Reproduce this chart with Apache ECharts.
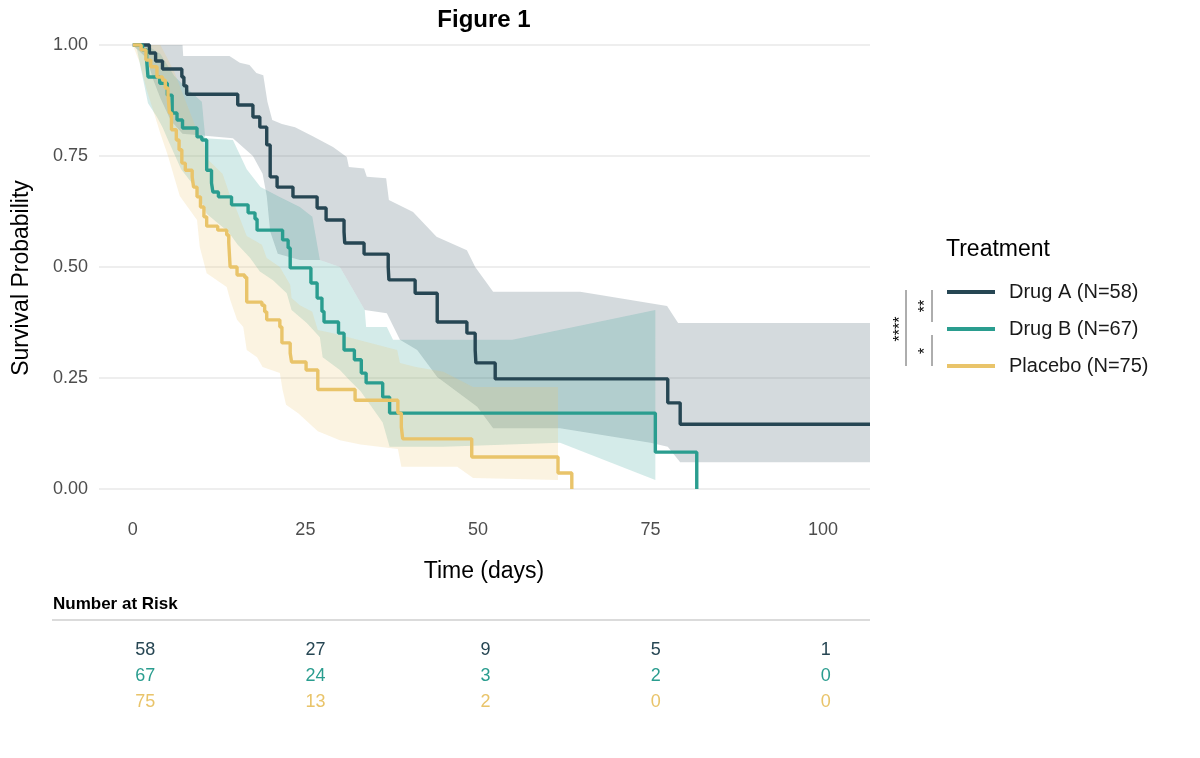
<!DOCTYPE html>
<html>
<head>
<meta charset="utf-8">
<script src="https://cdn.jsdelivr.net/npm/echarts@6/dist/echarts.min.js"></script>
<style>
  html, body { margin: 0; padding: 0; background: #fff; }
  #chart { width: 1200px; height: 758px; }
</style>
</head>
<body>
<div id="chart"></div>
<script>
// Kaplan-Meier step curves: [time, survival from that time on]
const drugA = [[0,1],[2.4,0.982],[3.3,0.964],[4.3,0.946],[7.1,0.928],[7.4,0.908],[7.8,0.889],[15.2,0.865],[17.4,0.838],[18.4,0.815],[19.4,0.775],[19.9,0.703],[20.9,0.68],[23.2,0.658],[26.7,0.633],[28.0,0.606],[30.6,0.579],[30.7,0.554],[33.5,0.529],[37.0,0.5],[37.1,0.471],[40.9,0.441],[44.1,0.376],[48.4,0.351],[49.6,0.313],[49.7,0.284],[52.5,0.248],[77.5,0.194],[79.3,0.146],[106.8,0.146]]
const drugB = [[0,1],[1.4,0.989],[2.0,0.966],[2.2,0.928],[3.9,0.914],[5.0,0.887],[5.7,0.847],[6.4,0.831],[7.2,0.813],[9.3,0.793],[10.0,0.786],[10.7,0.718],[11.4,0.689],[11.6,0.669],[12.4,0.658],[14.3,0.64],[16.7,0.622],[17.7,0.608],[18.0,0.583],[21.7,0.561],[22.5,0.543],[22.8,0.498],[25.8,0.464],[26.7,0.43],[27.4,0.4],[27.7,0.376],[29.8,0.351],[30.6,0.313],[32.1,0.291],[33.1,0.261],[33.8,0.239],[36.2,0.207],[37.2,0.171],[75.7,0.083],[81.7,0]]
const placebo = [[0,1],[1.2,0.989],[1.9,0.966],[2.6,0.951],[3.5,0.928],[4.3,0.921],[4.7,0.903],[5.1,0.887],[5.3,0.847],[5.6,0.809],[6.3,0.786],[6.7,0.764],[7.1,0.734],[7.6,0.718],[8.6,0.703],[8.8,0.68],[9.3,0.658],[9.8,0.635],[10.3,0.613],[10.7,0.592],[12.3,0.583],[13.6,0.572],[13.9,0.554],[14.1,0.5],[15.1,0.482],[16.2,0.477],[16.5,0.421],[18.7,0.414],[19.1,0.399],[19.4,0.381],[21.3,0.365],[21.6,0.329],[22.8,0.306],[23.0,0.286],[25.1,0.268],[26.8,0.224],[32.2,0.2],[38.4,0.171],[38.9,0.14],[39.1,0.113],[49.1,0.072],[61.6,0.036],[63.6,0]]

// 95% confidence bands
const drugAUpper = [[0,1],[7.2,1],[7.3,0.975],[14,0.975],[15.5,0.96],[16.9,0.955],[17.9,0.937],[18.9,0.932],[19.5,0.872],[20.2,0.831],[21.6,0.822],[23.5,0.815],[26,0.795],[29,0.77],[31,0.748],[31.3,0.725],[33.5,0.722],[33.9,0.703],[36.7,0.7],[37.1,0.651],[40.6,0.624],[44,0.568],[48.4,0.538],[49.6,0.5],[52.2,0.444],[64.8,0.444],[67.7,0.437],[77.4,0.412],[79,0.374],[106.8,0.374]]
const drugALower = [[0,1],[2,0.97],[3,0.92],[4,0.88],[5.5,0.83],[7.2,0.8],[14.5,0.79],[17.4,0.75],[18.8,0.71],[19.4,0.66],[19.9,0.58],[21,0.53],[24.2,0.516],[27.1,0.516],[30,0.5],[32.2,0.441],[33.6,0.403],[36.8,0.396],[38.7,0.336],[41.2,0.313],[44.1,0.252],[49.9,0.185],[52.2,0.137],[61.9,0.137],[75,0.104],[77.5,0.095],[79.3,0.06],[106.8,0.06]]
const drugBUpper = [[0,1],[2,1],[4,0.98],[6,0.93],[8,0.9],[10,0.872],[10.5,0.79],[14.5,0.786],[16.5,0.72],[18.5,0.68],[21,0.66],[24.2,0.635],[26,0.613],[27.1,0.516],[30,0.5],[32.2,0.441],[33.6,0.403],[33.8,0.365],[36.8,0.365],[37.7,0.336],[55,0.336],[75.7,0.403]]
const drugBLower = [[0,1],[0.6,0.99],[1.3,0.937],[2.2,0.869],[3.5,0.838],[4.3,0.815],[5.1,0.786],[7,0.72],[9,0.68],[10.7,0.62],[12.2,0.6],[13.8,0.58],[15.2,0.55],[17,0.52],[18.4,0.49],[20.3,0.47],[22.3,0.441],[23,0.403],[25.2,0.374],[27.1,0.342],[27.5,0.297],[30,0.268],[31.4,0.245],[33,0.22],[36.2,0.15],[37.2,0.095],[45,0.095],[61.9,0.104],[75.7,0.02]]
const placeboUpper = [[0,1],[4,1],[5,0.97],[6,0.94],[7,0.9],[8,0.86],[9,0.82],[10,0.79],[11,0.74],[13,0.71],[14.1,0.66],[15,0.63],[16.5,0.57],[18.7,0.55],[19.4,0.52],[21.3,0.5],[22.8,0.46],[23,0.43],[24.2,0.414],[26,0.399],[26.8,0.358],[29,0.351],[38.3,0.313],[38.7,0.284],[41,0.275],[45,0.264],[49.3,0.23],[61.6,0.23]]
const placeboLower = [[0,1],[1,0.96],[2,0.9],[3,0.85],[4,0.8],[5.1,0.75],[6.8,0.66],[9.3,0.606],[9.7,0.545],[10.7,0.486],[13.6,0.455],[14.1,0.426],[15.1,0.381],[16,0.365],[16.5,0.313],[18,0.297],[18.8,0.275],[21.3,0.261],[21.7,0.223],[22.2,0.19],[24,0.17],[26.8,0.13],[30,0.11],[33,0.1],[38.4,0.09],[38.9,0.05],[47,0.05],[49.3,0.025],[61.6,0.02]]

const seriesNames = ['Drug A (N=58)', 'Drug B (N=67)', 'Placebo (N=75)']
const colors = ['#264653', '#2A9D8F', '#E9C46A']
const bandColors = ['rgba(38,70,83,0.2)', 'rgba(42,157,143,0.2)', 'rgba(233,196,106,0.2)']

// number at risk table
const riskTimes = [0, 25, 50, 75, 100]
const riskA = [58, 27, 9, 5, 1]
const riskB = [67, 24, 3, 2, 0]
const riskPlacebo = [75, 13, 2, 0, 0]

const xTicks = [0, 25, 50, 75, 100]

const font = '"Liberation Sans", Arial, sans-serif'
const chart = echarts.init(document.getElementById('chart'))

function bandSeries(upper, lower, color) {
  return {
    type: 'custom',
    xAxisIndex: 0,
    yAxisIndex: 0,
    silent: true,
    z: 1,
    clip: false,
    data: [[0, 0]],
    renderItem: (params, api) => {
      const pts = upper.map(p => api.coord(p))
        .concat(lower.slice().reverse().map(p => api.coord(p)))
      return { type: 'polygon', shape: { points: pts }, style: { fill: color } }
    }
  }
}

function curveSeries(name, data, color) {
  return {
    name: name,
    type: 'line',
    step: 'end',
    xAxisIndex: 0,
    yAxisIndex: 0,
    data: data,
    symbol: 'none',
    clip: false,
    z: 3,
    lineStyle: { color: color, width: 3.4 },
    itemStyle: { color: color }
  }
}

function riskSeries(rowName, values, color) {
  return {
    type: 'scatter',
    xAxisIndex: 1,
    yAxisIndex: 1,
    symbolSize: 1,
    itemStyle: { color: 'rgba(0,0,0,0)', opacity: 1 },
    silent: true,
    data: riskTimes.map((t, i) => [t, rowName, values[i]]),
    label: {
      show: true,
      position: 'inside',
      formatter: p => String(p.value[2]),
      color: color,
      opacity: 1,
      fontSize: 18,
      fontFamily: font
    }
  }
}

const option = {
  animation: false,
  textStyle: { fontFamily: font },
  grid: [
    { left: 99, right: 330, top: 45, height: 444 },
    { left: 112, right: 328, top: 637, height: 78 }
  ],
  xAxis: [
    {
      type: 'value', gridIndex: 0, min: -4.9, max: 106.8,
      axisLine: { show: false }, axisTick: { show: false }, splitLine: { show: false },
      axisLabel: { customValues: xTicks, color: '#4d4d4d', fontSize: 18, margin: 32, fontFamily: font }
    },
    {
      type: 'value', gridIndex: 1, min: -4.9, max: 106.8, show: false
    }
  ],
  yAxis: [
    {
      type: 'value', gridIndex: 0, min: 0, max: 1, interval: 0.25,
      axisLine: { show: false }, axisTick: { show: false },
      splitLine: { lineStyle: { color: '#e8e8e8', width: 1.5 } },
      axisLabel: { color: '#4d4d4d', fontSize: 18, margin: 11, fontFamily: font, formatter: v => v.toFixed(2) }
    },
    {
      type: 'category', gridIndex: 1, inverse: true, show: false,
      data: ['A', 'B', 'P']
    }
  ],
  legend: {
    orient: 'vertical',
    left: 947,
    top: 281,
    padding: 0,
    icon: 'rect',
    itemWidth: 48,
    itemHeight: 4,
    itemGap: 15,
    data: seriesNames,
    textStyle: { fontSize: 20, lineHeight: 22, color: '#1a1a1a', fontFamily: font, padding: [0, 0, 0, 9] }
  },
  graphic: [
    { type: 'text', x: 484, y: 20, style: { text: 'Figure 1', font: 'bold 24px ' + font, fill: '#000', textAlign: 'center', textVerticalAlign: 'middle' } },
    { type: 'text', x: 22, y: 278, rotation: Math.PI / 2, style: { text: 'Survival Probability', font: '23px ' + font, fill: '#000', textAlign: 'center', textVerticalAlign: 'middle' } },
    { type: 'text', x: 484, y: 572, style: { text: 'Time (days)', font: '23px ' + font, fill: '#000', textAlign: 'center', textVerticalAlign: 'middle' } },
    { type: 'text', x: 946, y: 250, style: { text: 'Treatment', font: '23px ' + font, fill: '#000', textAlign: 'left', textVerticalAlign: 'middle' } },
    { type: 'text', x: 53, y: 604, style: { text: 'Number at Risk', font: 'bold 17px ' + font, fill: '#000', textAlign: 'left', textVerticalAlign: 'middle' } },
    { type: 'line', shape: { x1: 52, y1: 620, x2: 870, y2: 620 }, style: { stroke: '#b8b8b8', lineWidth: 1.2 } },
    // significance brackets
    { type: 'line', shape: { x1: 906, y1: 290, x2: 906, y2: 366 }, style: { stroke: '#333', lineWidth: 0.8 } },
    { type: 'line', shape: { x1: 932, y1: 290, x2: 932, y2: 322 }, style: { stroke: '#333', lineWidth: 0.8 } },
    { type: 'line', shape: { x1: 932, y1: 335, x2: 932, y2: 366 }, style: { stroke: '#333', lineWidth: 0.8 } },
    { type: 'text', x: 901, y: 329, rotation: Math.PI / 2, style: { text: '****', font: '16px ' + font, fill: '#000', textAlign: 'center', textVerticalAlign: 'middle' } },
    { type: 'text', x: 926, y: 306, rotation: Math.PI / 2, style: { text: '**', font: '16px ' + font, fill: '#000', textAlign: 'center', textVerticalAlign: 'middle' } },
    { type: 'text', x: 926, y: 351, rotation: Math.PI / 2, style: { text: '*', font: '16px ' + font, fill: '#000', textAlign: 'center', textVerticalAlign: 'middle' } }
  ],
  series: [
    bandSeries(drugAUpper, drugALower, bandColors[0]),
    bandSeries(drugBUpper, drugBLower, bandColors[1]),
    bandSeries(placeboUpper, placeboLower, bandColors[2]),
    curveSeries(seriesNames[0], drugA, colors[0]),
    curveSeries(seriesNames[1], drugB, colors[1]),
    curveSeries(seriesNames[2], placebo, colors[2]),
    riskSeries('A', riskA, colors[0]),
    riskSeries('B', riskB, colors[1]),
    riskSeries('P', riskPlacebo, colors[2])
  ]
}

chart.setOption(option)
</script>
</body>
</html>
